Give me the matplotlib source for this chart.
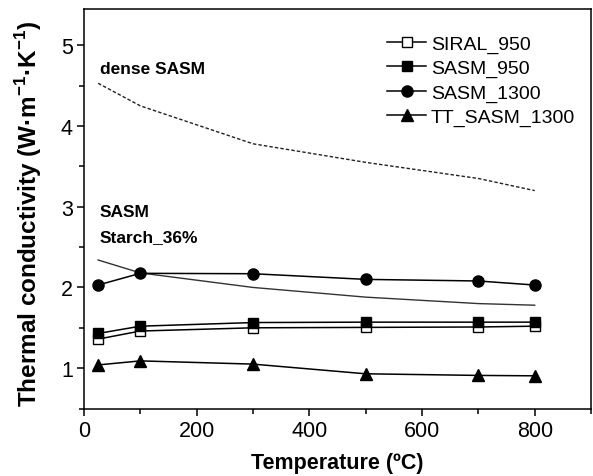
import matplotlib
matplotlib.use("Agg")
import matplotlib.pyplot as plt
from matplotlib.ticker import MultipleLocator

plt.rcParams['font.family'] = ['Liberation Sans', 'DejaVu Sans']
plt.rcParams['mathtext.fontset'] = 'custom'
plt.rcParams['mathtext.rm'] = 'Liberation Sans'
plt.rcParams['mathtext.bf'] = 'Liberation Sans:bold'

# data
temps = [25, 100, 300, 500, 700, 800]
siral_950 = [1.36, 1.46, 1.50, 1.505, 1.51, 1.52]
sasm_950 = [1.43, 1.52, 1.565, 1.57, 1.57, 1.57]
sasm_1300 = [2.03, 2.175, 2.17, 2.10, 2.08, 2.03]
tt_sasm_1300 = [1.04, 1.09, 1.05, 0.93, 0.91, 0.905]
dense_sasm = [4.53, 4.25, 3.78, 3.55, 3.35, 3.20]
starch_36 = [2.34, 2.18, 2.00, 1.88, 1.80, 1.78]

fig = plt.figure(figsize=(5.93, 4.77), dpi=100)
ax = fig.add_axes([0.1417, 0.1415, 0.855, 0.8375])

# model curves
ax.plot(temps, dense_sasm, color='#222222', lw=1.0, ls=(0, (2.5, 1.5)))
ax.plot(temps, starch_36, color='#333333', lw=1.0)

# measured series
ax.plot(temps, siral_950, 'k-', marker='s', mfc='white', mec='black', ms=6.5, lw=1.1, label='SIRAL_950')
ax.plot(temps, sasm_950, 'k-', marker='s', ms=6.5, lw=1.1, label='SASM_950')
ax.plot(temps, sasm_1300, 'k-', marker='o', ms=8, lw=1.1, label='SASM_1300')
ax.plot(temps, tt_sasm_1300, 'k-', marker='^', ms=8.5, lw=1.1, label='TT_SASM_1300')

ax.text(28, 4.66, 'dense SASM', fontsize=12.5, fontweight='bold')
ax.text(28, 2.89, 'SASM', fontsize=12.5, fontweight='bold')
ax.text(28, 2.58, 'Starch_36%', fontsize=12.5, fontweight='bold')

ax.set_xlim(0, 900)
ax.set_ylim(0.5, 5.45)
ax.xaxis.set_major_locator(MultipleLocator(200))
ax.xaxis.set_minor_locator(MultipleLocator(100))
ax.yaxis.set_major_locator(MultipleLocator(1))
ax.yaxis.set_minor_locator(MultipleLocator(0.5))
ax.tick_params(which='major', direction='out', length=5, width=1.1, labelsize=15.5, pad=3)
ax.tick_params(which='minor', direction='out', length=3.5, width=1.1)
for s in ax.spines.values():
    s.set_linewidth(1.1)

ax.set_xlabel('Temperature (ºC)', fontsize=15.5, fontweight='bold', labelpad=8)
ax.set_ylabel(r'Thermal conductivity (W·m$^{\mathbf{-1}}$·K$^{\mathbf{-1}}$)',
              fontsize=17.5, fontweight='bold')
ax.yaxis.set_label_coords(-0.078, 0.49)

ax.legend(loc='upper left', bbox_to_anchor=(0.598, 0.935), frameon=False,
          fontsize=14, handlelength=2.0, handletextpad=0.25, labelspacing=0.34,
          borderpad=0, borderaxespad=0)

fig.savefig('out.png', dpi=100)
